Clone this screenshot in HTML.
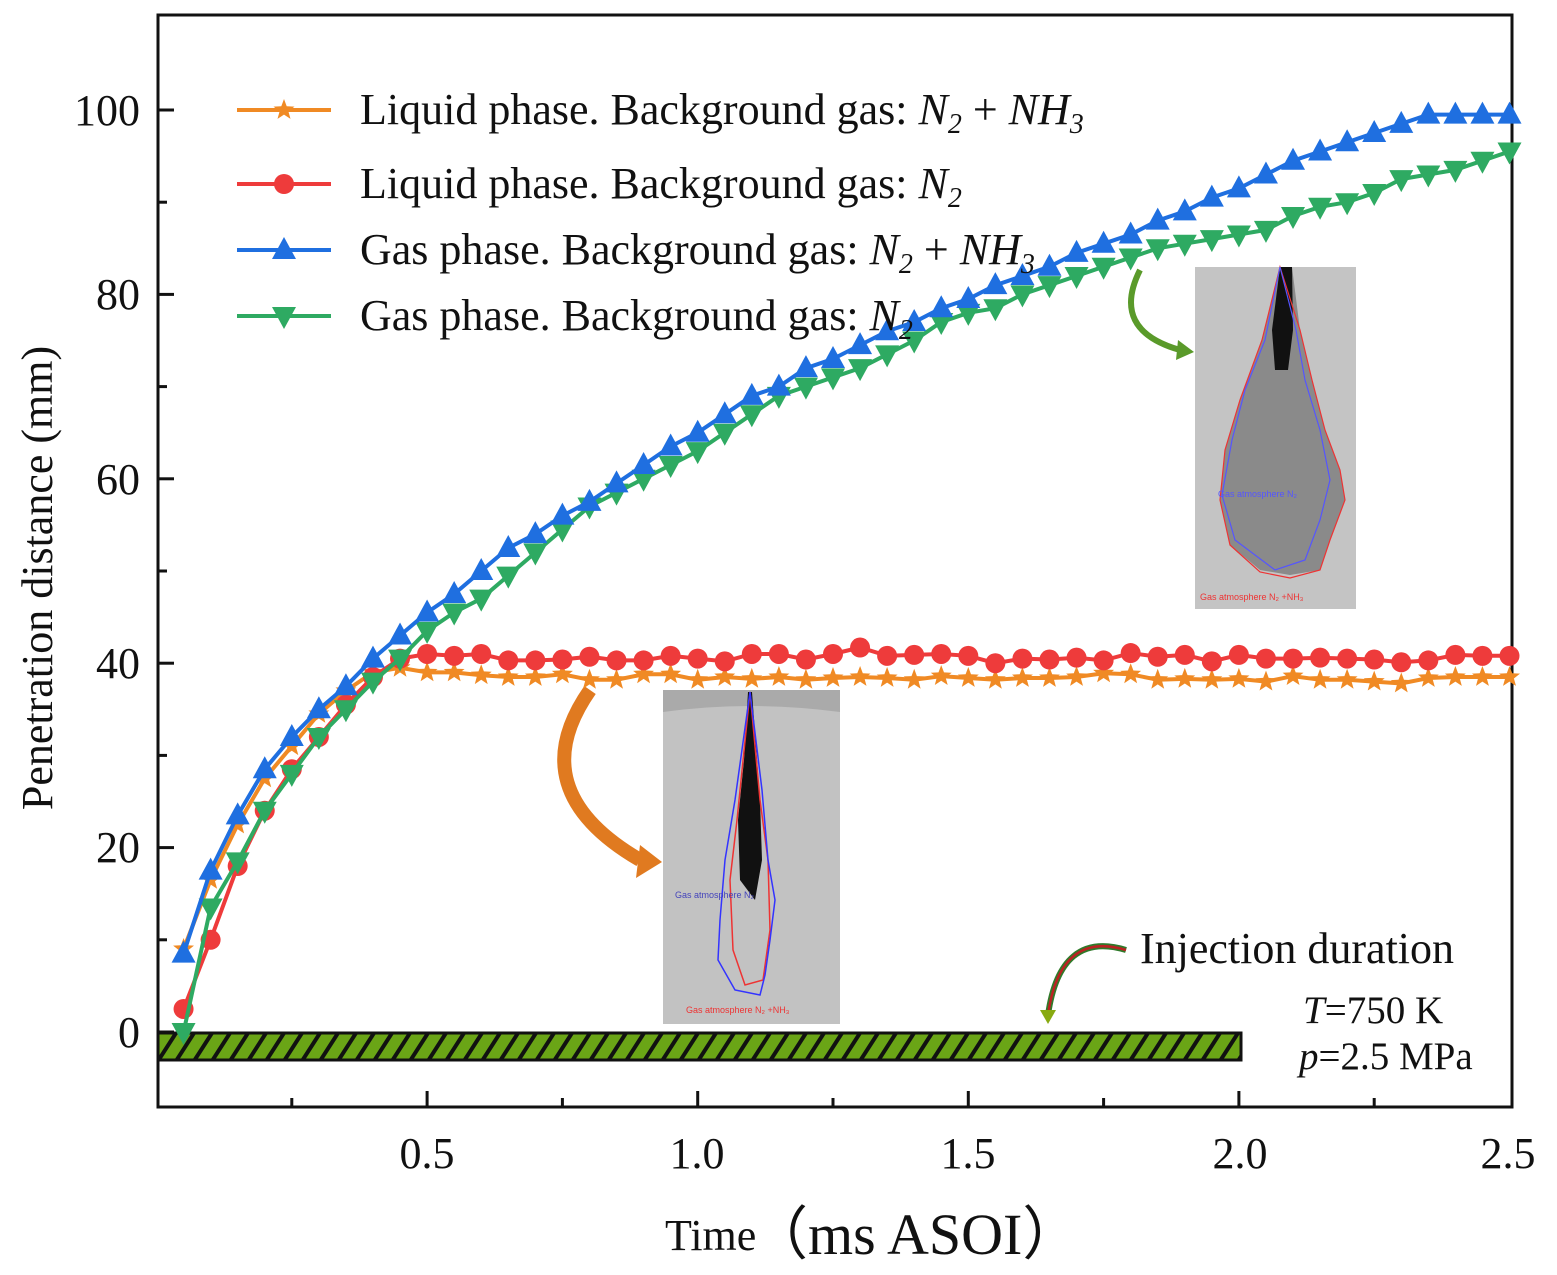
<!DOCTYPE html>
<html><head><meta charset="utf-8"><style>
html,body{margin:0;padding:0;background:#fff}
svg{display:block}
text{font-family:"Liberation Serif",serif;fill:#111}
</style></head><body>
<svg id="s" width="1557" height="1275" viewBox="0 0 1557 1275" xmlns="http://www.w3.org/2000/svg">
<defs>
<pattern id="hatch" patternUnits="userSpaceOnUse" width="18" height="28" patternTransform="translate(0,1033)">
<rect width="18" height="28" fill="#6aa516"/>
<path d="M-4,28 L14,0 M14,28 L32,0" stroke="#111" stroke-width="4"/>
</pattern>
</defs>
<rect width="1557" height="1275" fill="#fff"/>
<!-- insert image 1 (upper right) -->
<rect x="1195" y="267" width="161" height="342" fill="#c4c4c4"/>
<path d="M1280,267 L1292,267 L1300,330 L1312,380 L1325,430 L1340,470 L1345,500 L1330,540 L1320,570 L1290,575 L1260,570 L1230,545 L1220,500 L1225,450 L1240,400 L1262,340 Z" fill="#8a8a8a"/>
<path d="M1280,267 L1292,267 L1293,330 L1288,370 L1275,370 L1272,330 Z" fill="#111"/>
<path d="M1280,267 L1300,330 L1312,380 L1325,430 L1340,470 L1345,500 L1330,540 L1320,570 L1290,578 L1260,572 L1230,545 L1220,500 L1225,450 L1240,400 L1262,340 Z" fill="none" stroke="#e33" stroke-width="1.2"/>
<path d="M1280,267 L1296,330 L1305,380 L1320,430 L1330,480 L1320,520 L1305,560 L1275,570 L1235,540 L1222,495 L1232,440 L1245,390 L1265,340 Z" fill="none" stroke="#55f" stroke-width="1.2"/>
<text x="1218" y="497" font-size="9" style="fill:#55f;font-family:'Liberation Sans',sans-serif">Gas atmosphere  N₂</text>
<text x="1200" y="600" font-size="9" style="fill:#e33;font-family:'Liberation Sans',sans-serif">Gas atmosphere  N₂ +NH₃</text>
<!-- insert image 2 -->
<rect x="663" y="690" width="177" height="334" fill="#c2c2c2"/>
<path d="M663,690 L840,690 L840,712 Q750,700 663,712 Z" fill="#999" opacity="0.6"/>
<path d="M748,692 L752,692 L760,800 L762,860 L755,900 L740,880 L738,820 L744,760 Z" fill="#111"/>
<path d="M750,692 L760,800 L768,860 L770,930 L763,980 L745,985 L733,950 L730,880 L737,820 Z" fill="none" stroke="#e33" stroke-width="1.5"/>
<path d="M750,692 L762,790 L768,860 L775,900 L770,940 L765,975 L760,995 L735,990 L718,960 L720,920 L725,860 L735,800 Z" fill="none" stroke="#33f" stroke-width="1.5"/>
<text x="675" y="898" font-size="9" style="fill:#44b;font-family:'Liberation Sans',sans-serif">Gas atmosphere  N₂</text>
<text x="686" y="1013" font-size="9" style="fill:#e33;font-family:'Liberation Sans',sans-serif">Gas atmosphere  N₂ +NH₃</text>
<!-- arrows -->
<path d="M590,690 Q520,790 640,860" fill="none" stroke="#e07a20" stroke-width="14"/>
<path d="M640,845 L662,862 L636,878 Z" fill="#e07a20"/>
<path d="M1140,270 Q1110,330 1180,350" fill="none" stroke="#5a9a2a" stroke-width="6"/>
<path d="M1178,340 L1194,352 L1176,360 Z" fill="#5a9a2a"/>
<path d="M1126,950 Q1060,930 1048,1015" fill="none" stroke="#2f7a2a" stroke-width="6"/>
<path d="M1126,950 Q1060,930 1048,1015" fill="none" stroke="#b22" stroke-width="2.5"/>
<path d="M1040,1010 L1048,1024 L1056,1010 Z" fill="#8a1"/>
<!-- hatched bar -->
<rect x="158" y="1033" width="1083" height="27" fill="url(#hatch)" stroke="#111" stroke-width="3"/>
<!-- frame -->
<rect x="158" y="15" width="1354" height="1092" fill="none" stroke="#111" stroke-width="3"/>
<g id="ticks" stroke="#111" stroke-width="3"></g>
<g id="series"></g>
<!-- tick labels -->
<g font-size="44" text-anchor="end">
<text x="140" y="125">100</text><text x="140" y="309">80</text><text x="140" y="494">60</text>
<text x="140" y="678">40</text><text x="140" y="862">20</text><text x="140" y="1047">0</text>
</g>
<g font-size="44" text-anchor="middle">
<text x="427" y="1168">0.5</text><text x="697" y="1168">1.0</text><text x="968" y="1168">1.5</text>
<text x="1240" y="1168">2.0</text><text x="1508" y="1168">2.5</text>
</g>
<text transform="translate(52,578) rotate(-90)" font-size="44" text-anchor="middle">Penetration distance (mm)</text>
<text x="665" y="1250" font-size="44">Time</text>
<text x="750" y="1254" font-size="58">（ms ASOI）</text>
<!-- legend -->
<g id="leg"></g>
<g font-size="44">
<text x="360" y="124">Liquid phase.  Background gas: <tspan font-style="italic">N</tspan><tspan font-size="28" dy="9" font-style="italic">2</tspan><tspan dy="-9"> + </tspan><tspan font-style="italic">NH</tspan><tspan font-size="28" dy="9" font-style="italic">3</tspan></text>
<text x="360" y="198">Liquid phase. Background gas: <tspan font-style="italic">N</tspan><tspan font-size="28" dy="9" font-style="italic">2</tspan></text>
<text x="360" y="264">Gas phase. Background gas: <tspan font-style="italic">N</tspan><tspan font-size="28" dy="9" font-style="italic">2</tspan><tspan dy="-9"> + </tspan><tspan font-style="italic">NH</tspan><tspan font-size="28" dy="9" font-style="italic">3</tspan></text>
<text x="360" y="330">Gas phase. Background gas: <tspan font-style="italic">N</tspan><tspan font-size="28" dy="9" font-style="italic">2</tspan></text>
</g>
<text x="1140" y="963" font-size="44">Injection duration</text>
<text x="1303" y="1023" font-size="39"><tspan font-style="italic">T</tspan>=750 K</text>
<text x="1299" y="1069" font-size="39"><tspan font-style="italic">p</tspan>=2.5 MPa</text>
</svg>
<script>
var NS="http://www.w3.org/2000/svg";
function X(t){return 156.5+t*541.2}
function Y(v){return 1032-v*9.22}
function el(n,a,p){var e=document.createElementNS(NS,n);for(var k in a)e.setAttribute(k,a[k]);p.appendChild(e);return e}
var tk=document.getElementById('ticks');
for(var v=0;v<=100;v+=10){var L=(v%20==0)?16:9;el('line',{x1:158,x2:158+L,y1:Y(v),y2:Y(v)},tk);}
for(var t=0.25;t<2.5;t+=0.25){var L=(Math.abs(t*2-Math.round(t*2))<1e-6)?16:9;el('line',{x1:X(t),x2:X(t),y1:1107,y2:1107-L},tk);}
var B=[8.5,17.5,23.5,28.5,32,35,37.5,40.5,43,45.5,47.5,50,52.5,54,56,57.5,59.5,61.5,63.5,65,67,69,70,72,73,74.5,76,77,78.5,79.5,81,82,83,84.5,85.5,86.5,88,89,90.5,91.5,93,94.5,95.5,96.5,97.5,98.5,99.5,99.5,99.5,99.5];
var G=[0,13.5,18.5,24,28,32,35,38,40.5,43.5,45.5,47,49.5,52,54.5,57,58.5,60,61.5,63,65,67,69,70,71,72,73.5,75,77,78,78.5,80,81,82,83,84,85,85.5,86,86.5,87,88.5,89.5,90,91,92.5,93,93.5,94.5,95.5];
var R=[2.5,10,18,24,28.5,32,35.5,38.5,40.5,41,40.8,41,40.3,40.3,40.4,40.7,40.3,40.3,40.8,40.5,40.2,41,41,40.4,41,41.7,40.8,40.9,41,40.8,40,40.5,40.4,40.6,40.3,41.1,40.7,40.9,40.2,40.9,40.5,40.5,40.6,40.5,40.4,40.1,40.3,40.9,40.8,40.8];
var O=[9,16.5,22.5,27.5,31,34.5,37,39,39.5,39,39,38.7,38.5,38.5,38.8,38.2,38.2,38.8,38.8,38.2,38.5,38.3,38.5,38.2,38.4,38.5,38.4,38.2,38.6,38.4,38.2,38.4,38.4,38.5,38.9,38.8,38.2,38.3,38.2,38.3,38,38.6,38.2,38.2,38,37.8,38.4,38.5,38.5,38.5];
function star(cx,cy,r){var s='';for(var i=0;i<10;i++){var a=-Math.PI/2+i*Math.PI/5,rr=i%2?r*0.42:r;s+=(i?'L':'M')+(cx+rr*Math.cos(a)).toFixed(1)+','+(cy+rr*Math.sin(a)).toFixed(1);}return s+'Z'}
function mark(g,type,c,x,y){
 if(type=='c')el('circle',{cx:x,cy:y,r:10,fill:c},g);
 else if(type=='u')el('path',{d:'M'+x+','+(y-13)+'L'+(x+12)+','+(y+9)+'L'+(x-12)+','+(y+9)+'Z',fill:c},g);
 else if(type=='d')el('path',{d:'M'+x+','+(y+13)+'L'+(x+12)+','+(y-9)+'L'+(x-12)+','+(y-9)+'Z',fill:c},g);
 else el('path',{d:star(x,y,11),fill:c},g);
}
var sg=document.getElementById('series');
[[O,'#f08a24','s'],[R,'#ee3b3b','c'],[G,'#2eaa62','d'],[B,'#1f6fe0','u']].forEach(function(s){
 var g=el('g',{},sg),p='';
 s[0].forEach(function(v,i){p+=(i?'L':'M')+X((i+1)*0.05).toFixed(1)+','+Y(v).toFixed(1)});
 el('path',{d:p,fill:'none',stroke:s[1],'stroke-width':4},g);
 s[0].forEach(function(v,i){mark(g,s[2],s[1],X((i+1)*0.05),Y(v))});
});
var lg=document.getElementById('leg');
[[110,'#f08a24','s'],[184,'#ee3b3b','c'],[250,'#1f6fe0','u'],[316,'#2eaa62','d']].forEach(function(l){
 el('line',{x1:237,x2:331,y1:l[0],y2:l[0],stroke:l[1],'stroke-width':4},lg);
 mark(lg,l[2],l[1],284,l[0]);
});
</script>
</body></html>
